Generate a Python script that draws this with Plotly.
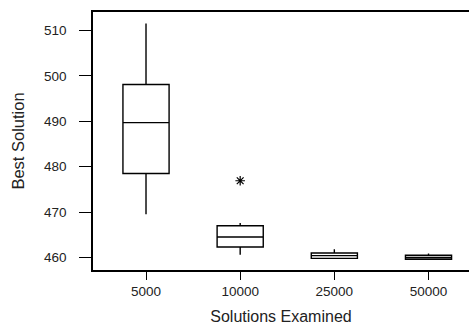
import plotly.graph_objects as go

categories = ["5000", "10000", "25000", "50000"]
lower_whisker = [469.5, 460.6, 459.8, 459.6]
q1_values = [478.5, 462.3, 459.8, 459.6]
median_values = [489.7, 464.5, 460.4, 460.0]
q3_values = [498.1, 467.0, 461.0, 460.5]
upper_whisker = [511.5, 467.6, 461.8, 460.9]
outlier_cats = ["10000"]
outlier_values = [476.9]
y_ticks = [460, 470, 480, 490, 500, 510]

FONT = "Arial, Liberation Sans, sans-serif"

fig = go.Figure()
fig.add_trace(go.Box(
    x=categories,
    q1=q1_values, median=median_values, q3=q3_values,
    lowerfence=lower_whisker, upperfence=upper_whisker,
    fillcolor="white",
    line=dict(color="black", width=1.4),
    whiskerwidth=0,
    width=0.49,
    boxpoints=False,
    showlegend=False,
))
fig.add_trace(go.Scatter(
    x=outlier_cats, y=outlier_values, mode="markers",
    marker=dict(symbol="asterisk-open", size=8, color="black",
                line=dict(color="black", width=1.2)),
    showlegend=False,
))

fig.update_layout(
    width=469, height=325,
    margin=dict(l=93, r=0, t=12, b=55),
    plot_bgcolor="white", paper_bgcolor="white",
    font=dict(family=FONT, color="#222", size=13),
    xaxis=dict(
        type="category", categoryorder="array", categoryarray=categories,
        range=[-0.563, 3.43], automargin=False,
        showline=True, linecolor="black", linewidth=1.5, mirror=True,
        ticks="outside", ticklen=8, tickcolor="black", tickwidth=1.3,
        showgrid=False, zeroline=False,
        tickfont=dict(size=13.5),
        title=dict(text="Solutions Examined", font=dict(size=16), standoff=14),
    ),
    yaxis=dict(
        range=[457.24, 514.06], automargin=False,
        tickvals=y_ticks,
        showline=True, linecolor="black", linewidth=1.5,
        ticks="outside", ticklen=12, tickcolor="black", tickwidth=1.3,
        showgrid=False, zeroline=False,
        tickfont=dict(size=13.5),
        ticklabelstandoff=10,
        title=dict(text="Best Solution", font=dict(size=16.5), standoff=15),
    ),
)

fig.write_html("out.html", config={"displayModeBar": False},
               post_script="document.body.style.margin='0';")
